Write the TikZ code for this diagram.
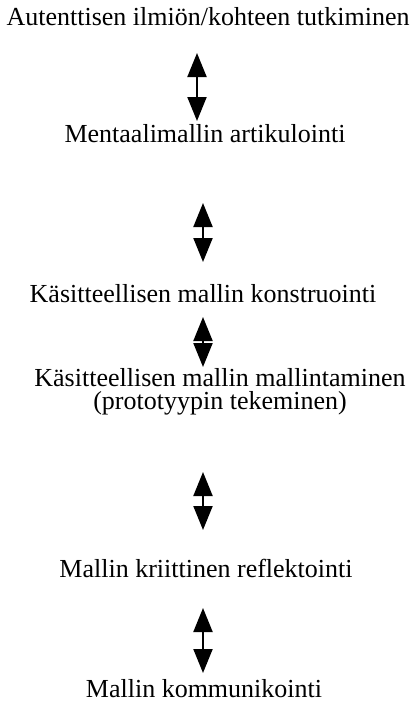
\documentclass[tikz,border=0pt]{standalone}
\usepackage{fontspec}
\setmainfont{Liberation Serif}
\usetikzlibrary{arrows.meta}
\tikzset{
  lbl/.style={anchor=base, inner sep=0pt, font=\fontsize{26}{23.5}\selectfont},
  dbl/.style={line width=2pt, {Triangle[width=19pt,length=24pt]}-{Triangle[width=19pt,length=24pt]}}
}
\begin{document}
\begin{tikzpicture}[x=1pt,y=-1pt]
\useasboundingbox (0,0) rectangle (414,702);
\node[lbl] (t1) at (208,25) {Autenttisen ilmiön/kohteen tutkiminen};
\node[lbl] (t2) at (205,142) {Mentaalimallin artikulointi};
\node[lbl] (t3) at (203,302) {Käsitteellisen mallin konstruointi};
\node[lbl, align=center] (t4) at (220,409.5) {Käsitteellisen mallin mallintaminen\\(prototyypin tekeminen)};
\node[lbl] (t5) at (206,577) {Mallin kriittinen reflektointi};
\node[lbl] (t6) at (204,697) {Mallin kommunikointi};
\coordinate (a1s) at (197,53);  \coordinate (a1e) at (197,121);
\coordinate (a2s) at (203,203); \coordinate (a2e) at (203,262);
\coordinate (a3s) at (203,317); \coordinate (a3e) at (203,367);
\coordinate (a4s) at (203,472); \coordinate (a4e) at (203,530);
\coordinate (a5s) at (203,608); \coordinate (a5e) at (203,673);
\draw[dbl] (a1s) -- (a1e);
\draw[dbl] (a2s) -- (a2e);
\draw[dbl] (a3s) -- (a3e);
\draw[dbl] (a4s) -- (a4e);
\draw[dbl] (a5s) -- (a5e);
\end{tikzpicture}
\end{document}
